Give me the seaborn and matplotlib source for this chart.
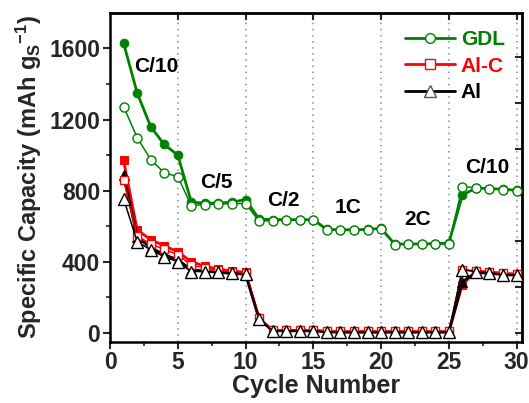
import matplotlib
matplotlib.use("Agg")
import matplotlib.pyplot as plt
import seaborn as sns
import numpy as np
from matplotlib.lines import Line2D
from matplotlib.ticker import MultipleLocator, FixedLocator

cycles = list(range(1, 31))
gdl_filled = [1630, 1350, 1160, 1060, 1000, 735, 730, 730, 735, 750, 640, 637, 637, 637, 637,
              582, 580, 580, 582, 588, 500, 500, 500, 502, 505, 775, 815, 812, 808, 802]
gdl_open = [1273, 1099, 975, 901, 878, 716, 722, 725, 727, 727, 628, 632, 633, 635, 637,
            578, 578, 579, 580, 585, 496, 500, 500, 501, 501, 822, 817, 812, 806, 800]
alc_filled = [970, 580, 524, 490, 456, 400, 375, 358, 348, 340, 82, 14, 12, 12, 12,
              8, 6, 6, 6, 6, 6, 6, 6, 6, 6, 272, 345, 340, 333, 330]
alc_open = [860, 545, 500, 470, 440, 380, 365, 352, 345, 338, 82, 16, 16, 16, 16,
            12, 10, 10, 10, 10, 10, 10, 10, 10, 10, 355, 350, 345, 338, 333]
al_filled = [890, 541, 479, 440, 411, 355, 348, 340, 335, 330, 78, 12, 12, 12, 12,
             6, 4, 4, 4, 4, 4, 4, 4, 4, 4, 287, 340, 335, 328, 325]
al_open = [755, 513, 468, 428, 400, 345, 345, 340, 338, 330, 79, 11, 12, 12, 12,
           5, 4, 4, 4, 4, 4, 4, 4, 4, 4, 355, 344, 338, 327, 327]

rate_labels = ["C/10", "C/5", "C/2", "1C", "2C", "C/10"]
rate_x = [3.4, 7.87, 12.8, 17.6, 22.7, 27.85]
rate_y = [1499, 845, 744, 704, 637, 930]

series_names = ["GDL", "Al-C", "Al"]
colors = ["#008000", "#ff0000", "#000000"]

sns.set_style("ticks")
plt.rcParams['font.family'] = ['Liberation Sans', 'DejaVu Sans']
plt.rcParams['font.weight'] = 'bold'
plt.rcParams['mathtext.fontset'] = 'custom'
plt.rcParams['mathtext.rm'] = 'Liberation Sans:bold'
plt.rcParams['mathtext.bf'] = 'Liberation Sans:bold'
plt.rcParams['mathtext.it'] = 'Liberation Sans:bold'

fig = plt.figure(figsize=(5.29, 4.03), dpi=100)
ax = fig.add_axes([0.208, 0.152, 0.778, 0.816])

for xv in [5, 10, 15, 20, 25, 30]:
    ax.axvline(xv, color="#8a8a8a", linestyle=(0, (1, 3)), linewidth=1.1, zorder=0)

data = [(gdl_filled, gdl_open, 'o', 6.2, 6.5), (alc_filled, alc_open, 's', 5.8, 6.0),
        (al_filled, al_open, '^', 7.0, 8.5)]
for (filled, opn, mk, ms_f, ms_o), col in zip(data, colors):
    sns.lineplot(x=cycles, y=filled, ax=ax, color=col, linewidth=2.0, marker=mk,
                 markersize=ms_f, markeredgecolor=col, markerfacecolor=col, zorder=3)
    sns.lineplot(x=cycles, y=opn, ax=ax, color=col, linewidth=1.1, marker=mk,
                 markersize=ms_o, markeredgecolor=col, markerfacecolor='white',
                 markeredgewidth=1.0, zorder=4)

for t, xv, yv in zip(rate_labels, rate_x, rate_y):
    ax.text(xv, yv, t, ha='center', va='center', fontsize=15, fontweight='bold', color='black')

handles = []
for name, col, mk, ms in zip(series_names, colors, ['o', 's', '^'], [7, 7, 8]):
    handles.append(Line2D([0], [0], color=col, lw=2.0, marker=mk, markersize=ms,
                          markerfacecolor='white', markeredgecolor=col if col != "#000000" else "#555555"))
leg = ax.legend(handles, series_names, loc='upper right', bbox_to_anchor=(0.99, 0.985),
                frameon=False, fontsize=15, handlelength=2.4, handletextpad=0.3,
                labelspacing=0.35, borderaxespad=0.2)
for txt, col in zip(leg.get_texts(), colors):
    txt.set_color(col)
    txt.set_fontweight('bold')

ax.set_xlim(0, 30.37)
ax.set_ylim(-50, 1800)
ax.xaxis.set_major_locator(FixedLocator([0, 5, 10, 15, 20, 25, 30]))
ax.xaxis.set_minor_locator(FixedLocator([2.5, 7.5, 12.5, 17.5, 22.5, 27.5]))
ax.yaxis.set_major_locator(FixedLocator([0, 400, 800, 1200, 1600]))
ax.yaxis.set_minor_locator(FixedLocator([200, 600, 1000, 1400]))
ax.tick_params(axis='both', which='major', direction='out', length=5, width=1.5,
               labelsize=16.5, pad=2)
ax.tick_params(axis='both', which='minor', direction='out', length=3, width=1.2)
for lab in ax.get_xticklabels() + ax.get_yticklabels():
    lab.set_fontweight('bold')

# mirrored top and right ticks
axt = ax.secondary_xaxis('top')
axt.xaxis.set_major_locator(FixedLocator([5, 10, 15, 20, 25, 30]))
axt.tick_params(direction='in', length=5, width=1.5, labeltop=False)
axr = ax.secondary_yaxis('right')
axr.yaxis.set_major_locator(FixedLocator([0, 259, 518, 777, 1036, 1295, 1554]))
axr.tick_params(direction='in', length=5, width=1.5, labelright=False)
for a in (axt, axr):
    for s in a.spines.values():
        s.set_linewidth(1.8)

for s in ax.spines.values():
    s.set_visible(True)
    s.set_linewidth(1.8)
    s.set_color('black')

ax.set_xlabel("Cycle Number", fontsize=18, fontweight='bold', labelpad=0)
ax.set_ylabel(r"Specific Capacity (mAh g$_{\rm S}$$^{-1}$)", fontsize=17, fontweight='bold',
              labelpad=4)

fig.savefig("out.png", dpi=100)
